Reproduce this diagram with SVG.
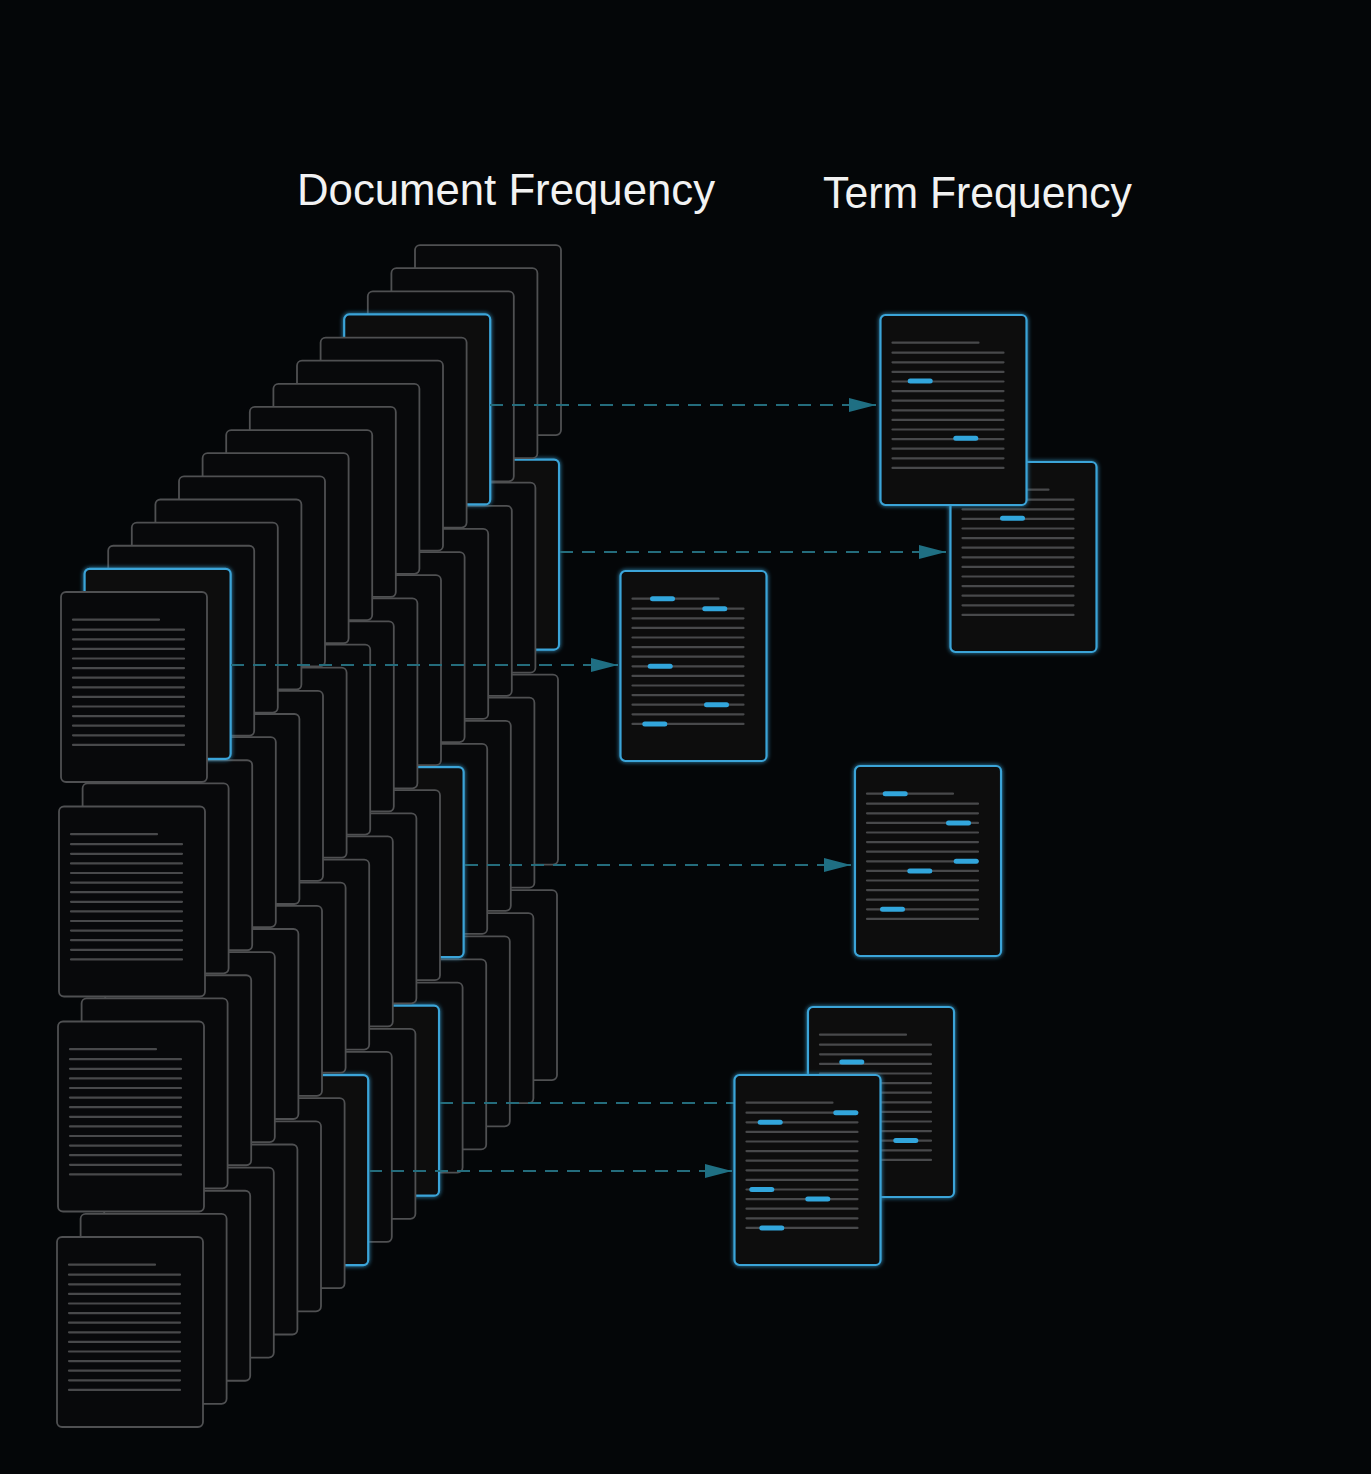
<svg xmlns="http://www.w3.org/2000/svg" xmlns:xlink="http://www.w3.org/1999/xlink" width="1371" height="1474" viewBox="0 0 1371 1474">
<style>
.bg{fill:#040608}
.doc{fill:#08090b;stroke:#4f5052;stroke-width:1.8}
.sel{fill:#08090b;stroke:#3ba4d8;stroke-width:2.2;filter:url(#glow)}
.ln{stroke:#48494b;stroke-width:2.2;stroke-linecap:round}
.hl{fill:#32a6dc}
.title{font-family:"Liberation Sans",Arial,sans-serif;font-size:44px;fill:#f2f2f2}
.con{stroke:#246c7c;stroke-width:2;stroke-dasharray:13 9;fill:none}
</style>
<defs>
<filter id="glow" x="-10%" y="-10%" width="120%" height="120%">
<feGaussianBlur in="SourceGraphic" stdDeviation="2" result="b"/>
<feMerge><feMergeNode in="b"/><feMergeNode in="SourceGraphic"/></feMerge>
</filter>
<rect id="d" width="146" height="190" rx="5"/>
<g id="lines">
<line class="ln" x1="12" y1="27.7" x2="98" y2="27.7"/>
<line class="ln" x1="12" y1="37.7" x2="123" y2="37.7"/>
<line class="ln" x1="12" y1="47.3" x2="123" y2="47.3"/>
<line class="ln" x1="12" y1="56.9" x2="123" y2="56.9"/>
<line class="ln" x1="12" y1="66.5" x2="123" y2="66.5"/>
<line class="ln" x1="12" y1="76.1" x2="123" y2="76.1"/>
<line class="ln" x1="12" y1="85.7" x2="123" y2="85.7"/>
<line class="ln" x1="12" y1="95.3" x2="123" y2="95.3"/>
<line class="ln" x1="12" y1="104.9" x2="123" y2="104.9"/>
<line class="ln" x1="12" y1="114.5" x2="123" y2="114.5"/>
<line class="ln" x1="12" y1="124.1" x2="123" y2="124.1"/>
<line class="ln" x1="12" y1="133.7" x2="123" y2="133.7"/>
<line class="ln" x1="12" y1="143.3" x2="123" y2="143.3"/>
<line class="ln" x1="12" y1="152.9" x2="123" y2="152.9"/>
</g>
<marker id="arr" markerUnits="userSpaceOnUse" markerWidth="28" markerHeight="16" refX="27" refY="7" orient="auto">
<path d="M0,0 L27,7 L0,14 Z" fill="#1f6f83"/>
</marker>
</defs>
<rect class="bg" width="1371" height="1474"/>

<text class="title" x="297" y="205" textLength="418" lengthAdjust="spacingAndGlyphs">Document Frequency</text>
<text class="title" x="823" y="208" textLength="309" lengthAdjust="spacingAndGlyphs">Term Frequency</text>

<g id="stack-4">
<use href="#d" class="doc" x="411" y="890.05"/>
<use href="#d" class="doc" x="387.4" y="913.18"/>
<use href="#d" class="doc" x="363.8" y="936.31"/>
<use href="#d" class="doc" x="340.2" y="959.44"/>
<use href="#d" class="doc" x="316.6" y="982.57"/>
<use href="#d" class="sel" x="293" y="1005.7"/>
<use href="#d" class="doc" x="269.4" y="1028.83"/>
<use href="#d" class="doc" x="245.8" y="1051.96"/>
<use href="#d" class="sel" x="222.2" y="1075.09"/>
<use href="#d" class="doc" x="198.6" y="1098.22"/>
<use href="#d" class="doc" x="175" y="1121.35"/>
<use href="#d" class="doc" x="151.4" y="1144.48"/>
<use href="#d" class="doc" x="127.8" y="1167.61"/>
<use href="#d" class="doc" x="104.2" y="1190.74"/>
<use href="#d" class="doc" x="80.6" y="1213.87"/>
<use href="#d" class="doc" x="57" y="1237"/>
<use href="#lines" x="57" y="1237"/>
</g>

<g id="stack-3">
<use href="#d" class="doc" x="412" y="674.55"/>
<use href="#d" class="doc" x="388.4" y="697.68"/>
<use href="#d" class="doc" x="364.8" y="720.81"/>
<use href="#d" class="doc" x="341.2" y="743.94"/>
<use href="#d" class="sel" x="317.6" y="767.07"/>
<use href="#d" class="doc" x="294" y="790.2"/>
<use href="#d" class="doc" x="270.4" y="813.33"/>
<use href="#d" class="doc" x="246.8" y="836.46"/>
<use href="#d" class="doc" x="223.2" y="859.59"/>
<use href="#d" class="doc" x="199.6" y="882.72"/>
<use href="#d" class="doc" x="176" y="905.85"/>
<use href="#d" class="doc" x="152.4" y="928.98"/>
<use href="#d" class="doc" x="128.8" y="952.11"/>
<use href="#d" class="doc" x="105.2" y="975.24"/>
<use href="#d" class="doc" x="81.6" y="998.37"/>
<use href="#d" class="doc" x="58" y="1021.5"/>
<use href="#lines" x="58" y="1021.5"/>
</g>

<g id="stack-2">
<use href="#d" class="sel" x="413" y="459.55"/>
<use href="#d" class="doc" x="389.4" y="482.68"/>
<use href="#d" class="doc" x="365.8" y="505.81"/>
<use href="#d" class="doc" x="342.2" y="528.94"/>
<use href="#d" class="doc" x="318.6" y="552.07"/>
<use href="#d" class="doc" x="295" y="575.2"/>
<use href="#d" class="doc" x="271.4" y="598.33"/>
<use href="#d" class="doc" x="247.8" y="621.46"/>
<use href="#d" class="doc" x="224.2" y="644.59"/>
<use href="#d" class="doc" x="200.6" y="667.72"/>
<use href="#d" class="doc" x="177" y="690.85"/>
<use href="#d" class="doc" x="153.4" y="713.98"/>
<use href="#d" class="doc" x="129.8" y="737.11"/>
<use href="#d" class="doc" x="106.2" y="760.24"/>
<use href="#d" class="doc" x="82.6" y="783.37"/>
<use href="#d" class="doc" x="59" y="806.5"/>
<use href="#lines" x="59" y="806.5"/>
</g>

<g id="stack-1">
<use href="#d" class="doc" x="415" y="245.05"/>
<use href="#d" class="doc" x="391.4" y="268.18"/>
<use href="#d" class="doc" x="367.8" y="291.31"/>
<use href="#d" class="sel" x="344.2" y="314.44"/>
<use href="#d" class="doc" x="320.6" y="337.57"/>
<use href="#d" class="doc" x="297" y="360.7"/>
<use href="#d" class="doc" x="273.4" y="383.83"/>
<use href="#d" class="doc" x="249.8" y="406.96"/>
<use href="#d" class="doc" x="226.2" y="430.09"/>
<use href="#d" class="doc" x="202.6" y="453.22"/>
<use href="#d" class="doc" x="179" y="476.35"/>
<use href="#d" class="doc" x="155.4" y="499.48"/>
<use href="#d" class="doc" x="131.8" y="522.61"/>
<use href="#d" class="doc" x="108.2" y="545.74"/>
<use href="#d" class="sel" x="84.6" y="568.87"/>
<use href="#d" class="doc" x="61" y="592"/>
<use href="#lines" x="61" y="592"/>
</g>

<g id="connectors">
<line class="con" x1="490" y1="405" x2="876" y2="405" marker-end="url(#arr)"/>
<line class="con" x1="560" y1="552" x2="946" y2="552" marker-end="url(#arr)"/>
<line class="con" x1="231" y1="665" x2="618" y2="665" marker-end="url(#arr)"/>
<line class="con" x1="465" y1="865" x2="851" y2="865" marker-end="url(#arr)"/>
<line class="con" x1="440" y1="1103" x2="806" y2="1103" marker-end="url(#arr)"/>
<line class="con" x1="369" y1="1171" x2="732" y2="1171" marker-end="url(#arr)"/>
</g>

<g id="term-doc-b">
<use href="#d" class="sel" x="950.5" y="462"/>
<use href="#lines" x="950.5" y="462"/>
<rect class="hl" x="1000" y="515.8" width="25" height="5" rx="2.5"/>
</g>
<g id="term-doc-a">
<use href="#d" class="sel" x="880.5" y="315"/>
<use href="#lines" x="880.5" y="315"/>
<rect class="hl" x="907.7" y="378.4" width="25" height="5" rx="2.5"/>
<rect class="hl" x="953.3" y="435.8" width="25" height="5" rx="2.5"/>
</g>
<g id="term-doc-c">
<use href="#d" class="sel" x="620.5" y="571"/>
<use href="#lines" x="620.5" y="571"/>
<rect class="hl" x="650" y="596.2" width="25" height="5" rx="2.5"/>
<rect class="hl" x="702.3" y="606.2" width="25" height="5" rx="2.5"/>
<rect class="hl" x="647.7" y="663.8" width="25" height="5" rx="2.5"/>
<rect class="hl" x="704" y="702.2" width="25" height="5" rx="2.5"/>
<rect class="hl" x="642.3" y="721.4" width="25" height="5" rx="2.5"/>
</g>
<g id="term-doc-d">
<use href="#d" class="sel" x="855" y="766"/>
<use href="#lines" x="855" y="766"/>
<rect class="hl" x="882.7" y="791.2" width="25" height="5" rx="2.5"/>
<rect class="hl" x="946" y="820.4" width="25" height="5" rx="2.5"/>
<rect class="hl" x="953.7" y="858.8" width="25" height="5" rx="2.5"/>
<rect class="hl" x="907.3" y="868.4" width="25" height="5" rx="2.5"/>
<rect class="hl" x="880" y="906.8" width="25" height="5" rx="2.5"/>
</g>
<g id="term-doc-e">
<use href="#d" class="sel" x="808" y="1007"/>
<use href="#lines" x="808" y="1007"/>
<rect class="hl" x="839.3" y="1059.4" width="25" height="5" rx="2.5"/>
<rect class="hl" x="893.3" y="1138" width="25" height="5" rx="2.5"/>
</g>
<g id="term-doc-f">
<use href="#d" class="sel" x="734.5" y="1075"/>
<use href="#lines" x="734.5" y="1075"/>
<rect class="hl" x="833.3" y="1110.2" width="25" height="5" rx="2.5"/>
<rect class="hl" x="757.7" y="1119.8" width="25" height="5" rx="2.5"/>
<rect class="hl" x="749.3" y="1187" width="25" height="5" rx="2.5"/>
<rect class="hl" x="805.3" y="1196.6" width="25" height="5" rx="2.5"/>
<rect class="hl" x="759.3" y="1225.4" width="25" height="5" rx="2.5"/>
</g>
</svg>
